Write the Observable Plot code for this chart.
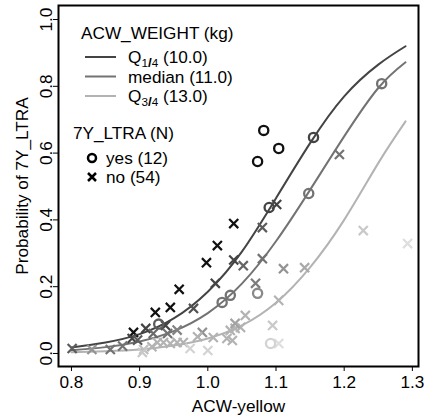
<!DOCTYPE html>
<html>
<head>
<meta charset="utf-8">
<script src="https://cdn.jsdelivr.net/npm/d3@7"></script>
<script src="https://cdn.jsdelivr.net/npm/@observablehq/plot@0.6"></script>
<style>
  html, body { margin: 0; padding: 0; background: #fff; }
  svg { font-family: "Liberation Sans", Arial, Helvetica, sans-serif; }
</style>
</head>
<body>
<div id="chart"></div>
<script>
// ---- data ----
const xTicks = [0.8, 0.9, 1.0, 1.1, 1.2, 1.3];
const yTicks = [0.0, 0.2, 0.4, 0.6, 0.8, 1.0];

// fitted curves (probability at a given ACW-yellow), per ACW_WEIGHT
const curveX   = [0.80, 0.85, 0.90, 0.95, 1.00, 1.05, 1.10, 1.15, 1.20, 1.25, 1.29];
const curveQ1  = [0.018, 0.033, 0.058, 0.105, 0.185, 0.305, 0.465, 0.630, 0.770, 0.865, 0.920];
const curveMed = [0.010, 0.019, 0.036, 0.067, 0.121, 0.209, 0.336, 0.490, 0.650, 0.795, 0.872];
const curveQ3  = [0.004, 0.007, 0.012, 0.024, 0.045, 0.084, 0.152, 0.258, 0.400, 0.570, 0.695];
const curveWeights = [10.0, 11.0, 13.0];
const weightNames = ["Q", "median", "Q"];
const weightSubs  = ["1/4", "", "3/4"];
const weightValueLabels = ["(10.0)", "(11.0)", "(13.0)"];

// observed cases: yes (7Y_LTRA) — x, fitted probability, weight
const yesX = [1.082, 1.104, 1.073, 1.090, 1.155, 1.255, 1.148, 1.033, 1.021, 1.073, 1.092, 0.928];
const yesP = [0.668, 0.614, 0.575, 0.437, 0.647, 0.808, 0.479, 0.174, 0.153, 0.180, 0.030, 0.088];
const yesW = [8, 8, 8, 10, 10, 11, 11, 11, 11, 11.7, 14.5, 10.5];

// observed cases: no
const noX = [0.891, 0.923, 0.945, 0.958, 0.998, 1.014, 1.038,
             1.101, 1.038, 1.011, 0.979, 0.909, 0.889, 0.938, 0.801, 0.897,
             1.080, 1.080, 1.052, 1.193, 1.070, 0.857, 0.941, 0.992, 1.111, 1.142,
             1.104, 1.055, 1.048, 1.040, 1.033, 1.036, 1.028, 1.008, 0.926, 0.935, 0.945, 0.955, 0.964, 0.906, 0.904,
             1.000, 0.974, 1.095, 1.104, 1.228, 1.293,
             0.830, 0.875, 0.918, 0.985, 1.040, 0.920, 0.955];
const noP = [0.063, 0.123, 0.138, 0.192, 0.272, 0.323, 0.389,
             0.446, 0.280, 0.210, 0.135, 0.075, 0.045, 0.084, 0.015, 0.040,
             0.377, 0.284, 0.263, 0.596, 0.210, 0.012, 0.060, 0.063, 0.254, 0.257,
             0.159, 0.114, 0.078, 0.075, 0.069, 0.039, 0.045, 0.048, 0.033, 0.033, 0.030, 0.033, 0.033, 0.012, 0.003,
             0.009, 0.015, 0.084, 0.030, 0.368, 0.329,
             0.012, 0.022, 0.020, 0.050, 0.090, 0.060, 0.070];
const noW = [8, 8, 8, 8, 8, 8, 8,
             10, 10, 10, 10.3, 10, 10, 10, 10.5, 10.5,
             10.5, 11, 10.7, 11, 11.3, 11, 11, 12, 12, 12.7,
             13, 13, 13, 13, 13, 13, 13, 13, 13, 13, 13, 13, 13, 13.5, 14,
             14.5, 14.5, 14, 15, 14, 15,
             12, 11, 13, 13, 12.5, 10.8, 11.5];

const legendYesLabel = "yes (12)";
const legendNoLabel = "no (54)";
const weightTitle = "ACW_WEIGHT (kg)";
const outcomeTitle = "7Y_LTRA (N)";

// ---- tables ----
const curves = [];
[curveQ1, curveMed, curveQ3].forEach((arr, k) => {
  arr.forEach((p, i) => curves.push({x: curveX[i], p, w: curveWeights[k]}));
});
const yes = yesX.map((x, i) => ({x, p: yesP[i], w: yesW[i]}));
const no = noX.map((x, i) => ({x, p: noP[i], w: noW[i]}));

const FS = 17.2;
const grayDomain = [8, 10, 11, 13, 15];
const grayRange = ["#111111", "#444444", "#737373", "#b3b3b3", "#dedede"];

const chart = Plot.plot({
  width: 433,
  height: 416,
  marginLeft: 58,
  marginRight: 15,
  marginTop: 5,
  marginBottom: 50,
  style: {fontSize: FS + "px", fontFamily: '"Liberation Sans", Arial, sans-serif', background: "#fff", color: "#000"},
  x: {domain: [0.781, 1.309]},
  y: {domain: [-0.039, 1.042]},
  color: {type: "linear", domain: grayDomain, range: grayRange, interpolate: "rgb"},
  marks: [
    Plot.line(curves, {x: "x", y: "p", z: "w", stroke: "w", strokeWidth: 2, curve: "natural"}),
    Plot.dot(no, {x: "x", y: "p", stroke: "w", symbol: "times", r: 4.2, strokeWidth: 2.2}),
    Plot.dot(yes, {x: "x", y: "p", stroke: "w", symbol: "circle", r: 4.6, strokeWidth: 2.3}),
    Plot.frame({stroke: "#000", strokeWidth: 2}),
    Plot.axisX({ticks: xTicks, tickFormat: d3.format(".1f"), tickSize: 5, tickPadding: 4, label: "ACW-yellow", labelAnchor: "center", labelArrow: "none", labelOffset: 45, fontSize: FS}),
    Plot.axisY({ticks: yTicks, tickSize: 5, tickFormat: () => "", label: null}),
    Plot.text(yTicks, {y: d => d, text: d => d3.format(".1f")(d), frameAnchor: "left", dx: -12, rotate: -90, textAnchor: "middle", lineAnchor: "middle", fontSize: FS}),
    Plot.text(["Probability of 7Y_LTRA"], {frameAnchor: "left", dx: -36, rotate: -90, textAnchor: "middle", lineAnchor: "middle", fontSize: FS})
  ]
});
document.getElementById("chart").appendChild(chart);

// ---- in-plot legend ----
const svg = d3.select(chart);
const color = chart.scale("color");
const lg = svg.append("g").attr("font-size", FS).attr("fill", "#000").attr("text-anchor", "start");
lg.append("text").attr("x", 81).attr("y", 39).text(weightTitle);
curveWeights.forEach((w, i) => {
  const y = 57 + i * 19.5;
  lg.append("line").attr("x1", 85).attr("x2", 116).attr("y1", y).attr("y2", y)
    .attr("stroke", color.apply(w)).attr("stroke-width", 2);
  const t = lg.append("text").attr("x", 128).attr("y", y + 6);
  t.append("tspan").text(weightNames[i]);
  if (weightSubs[i]) {
    const [a, b] = weightSubs[i].split("/");
    t.append("tspan").attr("font-size", FS * 0.68).attr("dy", 3.5).text(a);
    t.append("tspan").attr("font-size", FS * 0.78).attr("font-weight", "bold").text("/");
    t.append("tspan").attr("font-size", FS * 0.68).text(b);
    t.append("tspan").attr("dy", -3.5).text(" " + weightValueLabels[i]);
  } else {
    t.append("tspan").text(" " + weightValueLabels[i]);
  }
});
lg.append("text").attr("x", 73).attr("y", 139).text(outcomeTitle);
lg.append("circle").attr("cx", 92).attr("cy", 158).attr("r", 4).attr("fill", "none").attr("stroke", "#000").attr("stroke-width", 2.5);
lg.append("text").attr("x", 106).attr("y", 164).text(legendYesLabel);
lg.append("path").attr("d", "M88,173L96,181M96,173L88,181").attr("stroke", "#000").attr("stroke-width", 2.5);
lg.append("text").attr("x", 106).attr("y", 183).text(legendNoLabel);
</script>
</body>
</html>
